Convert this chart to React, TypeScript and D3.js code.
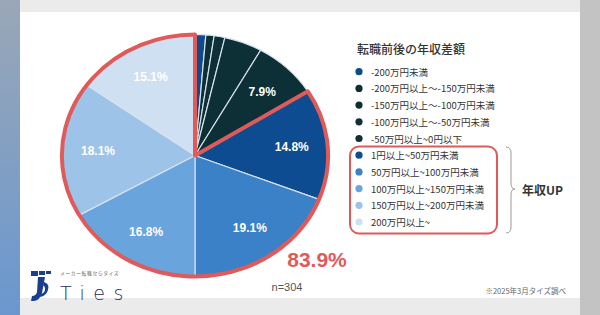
import React from "react";
import * as d3 from "d3";

// 転職前後の年収差額 (n=304)
const categories = [
  "-200万円未満",
  "-200万円以上～-150万円未満",
  "-150万円以上～-100万円未満",
  "-100万円以上～-50万円未満",
  "-50万円以上~0円以下",
  "1円以上~50万円未満",
  "50万円以上~100万円未満",
  "100万円以上~150万円未満",
  "150万円以上~200万円未満",
  "200万円以上~",
];
const values = [1.3, 1.0, 1.3, 4.6, 7.9, 14.8, 19.1, 16.8, 18.1, 15.1];
const colors = [
  "#0f4a8a", "#0d2f36", "#0d2f36", "#0d2f36", "#0d2f36",
  "#0e4c92", "#3b81c8", "#6aa4dc", "#9dc3e8", "#cfe0f2",
];
const upIndex = [5, 6, 7, 8, 9];
const sampleNote = "n=304";
const sourceNote = "※2025年3月タイズ調べ";

const W = 600, H = 315;
const cx = 195, cy = 155.5, r = 121, sx = 1.1;
const RED = "#e05a5a";
const font = "'Noto Sans CJK JP', 'Noto Sans', sans-serif";

export default function App() {
  const pie = d3.pie<number>().sort(null).value(d => d);
  const arcs = pie(values);
  const arc = d3.arc<d3.PieArcDatum<number>>().innerRadius(0).outerRadius(r);
  const labelArc = d3.arc<d3.PieArcDatum<number>>().innerRadius(r * 0.73).outerRadius(r * 0.73);

  const upArcs = arcs.filter((_, i) => upIndex.includes(i));
  const upTotal = d3.sum(upIndex, i => values[i]);
  const upOutline = d3.arc()({
    innerRadius: 0,
    outerRadius: r,
    startAngle: upArcs[0].startAngle,
    endAngle: upArcs[upArcs.length - 1].endAngle,
  } as any) as string;

  const legendY = d3.scaleLinear().domain([0, 1]).range([71.7, 88.4]);

  return (
    <div style={{ position: "fixed", left: 0, top: 0 }}>
      <svg width={W} height={H} style={{ display: "block" }} fontFamily={font}>
        <defs>
          <linearGradient id="side" x1="0" y1="0" x2="0" y2="1">
            <stop offset="0" stopColor="#9aa7b7" />
            <stop offset="1" stopColor="#6a97cf" />
          </linearGradient>
        </defs>
        <rect width={W} height={H} fill="#ebebeb" />
        <rect x={0} y={0} width={20} height={H} fill="url(#side)" />
        <rect x={580} y={0} width={20} height={H} fill="#c3c3c3" />
        <rect x={20} y={12} width={560} height={286} fill="#ffffff" />

        {/* pie */}
        <g transform={`translate(${cx},${cy}) scale(${sx},1)`}>
          {arcs.map((a, i) => (
            <path key={i} d={arc(a) as string} fill={colors[i]}
              stroke="#d6e2ee" strokeWidth={1.2} vectorEffect="non-scaling-stroke" />
          ))}
          <path d={upOutline} fill="none" stroke={RED} strokeWidth={4}
            strokeLinejoin="round" vectorEffect="non-scaling-stroke" />
        </g>
        {arcs.map((a, i) => {
          if (values[i] < 5) return null;
          const [lx, ly] = labelArc.centroid(a);
          return (
            <text key={i} x={cx + lx * sx} y={cy + ly} textAnchor="middle" dominantBaseline="central"
              fill="#ffffff" fontSize={12} fontWeight={700} fontFamily="'Liberation Sans', Arial, sans-serif">
              {values[i].toFixed(1)}%
            </text>
          );
        })}
        <text x={317} y={267} textAnchor="middle" fill={RED} fontSize={21} fontWeight={700}
          fontFamily="'Liberation Sans', Arial, sans-serif">
          {upTotal.toFixed(1)}%
        </text>

        {/* legend */}
        <text x={357} y={54} fontSize={12} fill="#333" fontWeight={500}>転職前後の年収差額</text>
        {categories.map((c, i) => (
          <g key={c} transform={`translate(0,${legendY(i)})`}>
            <circle cx={359} cy={0} r={3.6} fill={colors[i]} />
            <text x={371} y={0} dominantBaseline="central" fontSize={9.5} fill="#333">{c}</text>
          </g>
        ))}
        <rect x={350} y={146.5} width={147} height={87} rx={9} fill="none" stroke={RED} strokeWidth={2} />
        <path d="M506,147 Q511,147 511,153 L511,183 Q511,189 515,189 Q511,189 511,195 L511,227 Q511,233 506,233"
          fill="none" stroke="#9a9a9a" strokeWidth={1} />
        <text x={522} y={189} dominantBaseline="central" fontSize={12} fontWeight={700} fill="#333">年収UP</text>

        {/* footer */}
        <text x={287} y={291} textAnchor="middle" fontSize={11} fill="#555"
          fontFamily="'Liberation Sans', Arial, sans-serif">{sampleNote}</text>
        <text x={566} y={294} textAnchor="end" fontSize={7.5} fill="#666">{sourceNote}</text>

        {/* logo */}
        <g fill="#1b3f8f">
          <rect x={31} y={271} width={7} height={5} />
          <rect x={39} y={271} width={6} height={4} />
          <rect x={46} y={271} width={5} height={3} />
          <path d="M38,277 L45,277 L42,293 Q40,300 34,301 L31,301 L32,296 Q36,296 37,292 Z" />
          <path d="M44,282 Q50,284 48,290 Q46,296 40,297 L41,294 Q45,293 45,289 Q45,286 43,285 Z" />
        </g>
        <text x={60} y={275} fontSize={4.8} fill="#666" letterSpacing={0.6}>メーカー転職ならタイズ</text>
        <text x={60} y={300} fontSize={19} fill="#1d2c5a" letterSpacing={8.5}
          fontFamily="'DejaVu Sans', sans-serif" fontWeight={200}>Ties</text>
      </svg>
    </div>
  );
}
